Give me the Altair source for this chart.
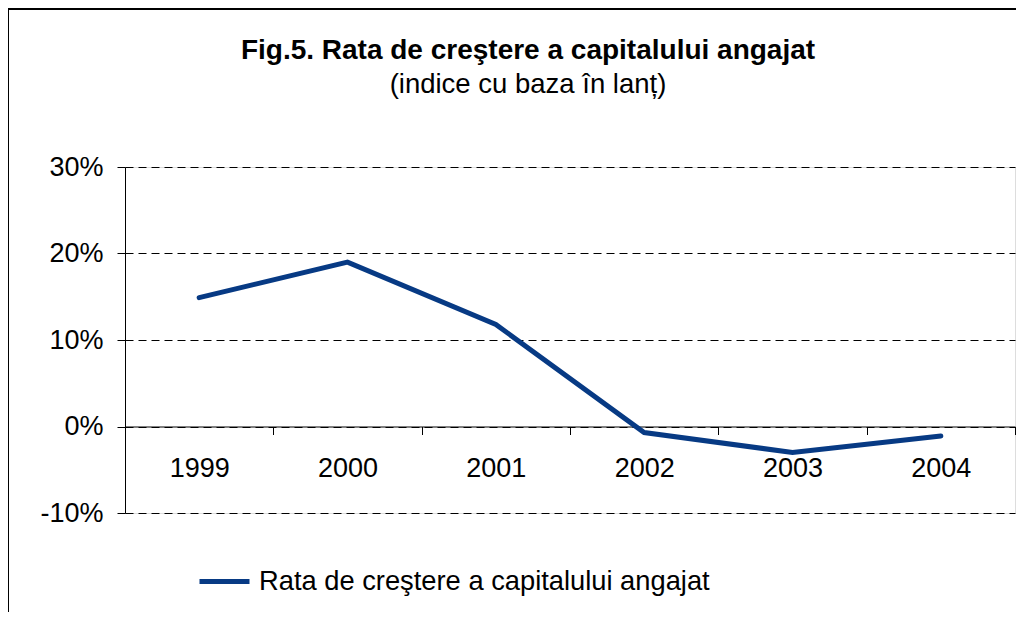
import altair as alt
import pandas as pd

years = ["1999", "2000", "2001", "2002", "2003", "2004"]
rates = [0.149, 0.190, 0.118, -0.007, -0.030, -0.011]
series_name = "Rata de creştere a capitalului angajat"
y_ticks = [-0.1, 0.0, 0.1, 0.2, 0.3]

title_text = "Fig.5. Rata de creştere a capitalului angajat"
subtitle_text = "(indice cu baza în lanț)"

W, H = 890, 346
PAD = {"left": 117, "top": 159, "right": 2, "bottom": 100}
Y_MIN, Y_MAX = -0.1, 0.3
zero_offset = -(0 - Y_MIN) / (Y_MAX - Y_MIN) * H

FONT = "Liberation Sans"
NAVY = "#073a84"

df = pd.DataFrame({"year": years, "rate": rates, "series": [series_name] * len(years)})

label_expr = "replace(format(datum.value, '.0%'), '\u2212', '-')"

one = pd.DataFrame({"k": [0]})
frame_top = alt.Chart(one).mark_rule(stroke="black", strokeWidth=2).encode(
    x=alt.value(-PAD["left"] - 1), x2=alt.value(W + PAD["right"] - 1), y=alt.value(-158)
)
frame_left = alt.Chart(one).mark_rule(stroke="black", strokeWidth=2).encode(
    x=alt.value(-PAD["left"]), y=alt.value(-159), y2=alt.value(H + PAD["bottom"] - 1)
)

line = alt.Chart(df).mark_line(strokeWidth=5, strokeCap="round").encode(
    x=alt.X(
        "year:N",
        bandPosition=0.5,
        sort=years,
        scale=alt.Scale(type="band", paddingInner=0, paddingOuter=0),
        axis=alt.Axis(
            title=None, orient="bottom", offset=zero_offset, labelAngle=0,
            labelFontSize=27, labelFont=FONT, labelColor="black",
            domainColor="black", domainWidth=1, tickColor="black", tickSize=8,
            tickBand="extent", labelPadding=21, grid=False, labelBaseline="top",
        ),
    ),
    y=alt.Y(
        "rate:Q",
        scale=alt.Scale(domain=[Y_MIN, Y_MAX], nice=False, zero=False),
        axis=alt.Axis(
            title=None, values=y_ticks, labelExpr=label_expr,
            labelFontSize=27, labelFont=FONT, labelColor="black",
            tickSize=8, tickColor="black", domainColor="black", labelPadding=14,
            grid=True, gridColor="black", gridDash=[8, 5], gridWidth=1,
        ),
    ),
    color=alt.Color(
        "series:N",
        scale=alt.Scale(domain=[series_name], range=[NAVY]),
        legend=alt.Legend(
            title=None, orient="none", legendX=72, legendY=387,
            symbolType="stroke", symbolStrokeWidth=5, symbolSize=2500,
            labelFontSize=27.3, labelFont=FONT, labelColor="black", labelOffset=7,
            labelLimit=0,
        ),
    ),
)

chart = alt.layer(frame_top, frame_left, line).properties(
    width=W,
    height=H,
    title=alt.TitleParams(
        text=title_text, subtitle=subtitle_text,
        font=FONT, fontSize=28, fontWeight="bold", color="black",
        subtitleFont=FONT, subtitleFontSize=27.5, subtitleColor="black",
        anchor="middle", dx=-42, offset=-91, subtitlePadding=6,
    ),
    autosize=alt.AutoSizeParams(type="none"),
    padding=PAD,
).configure_view(stroke=None).configure(background="transparent")

chart.save("out.html", embed_options={"renderer": "svg", "actions": False})
